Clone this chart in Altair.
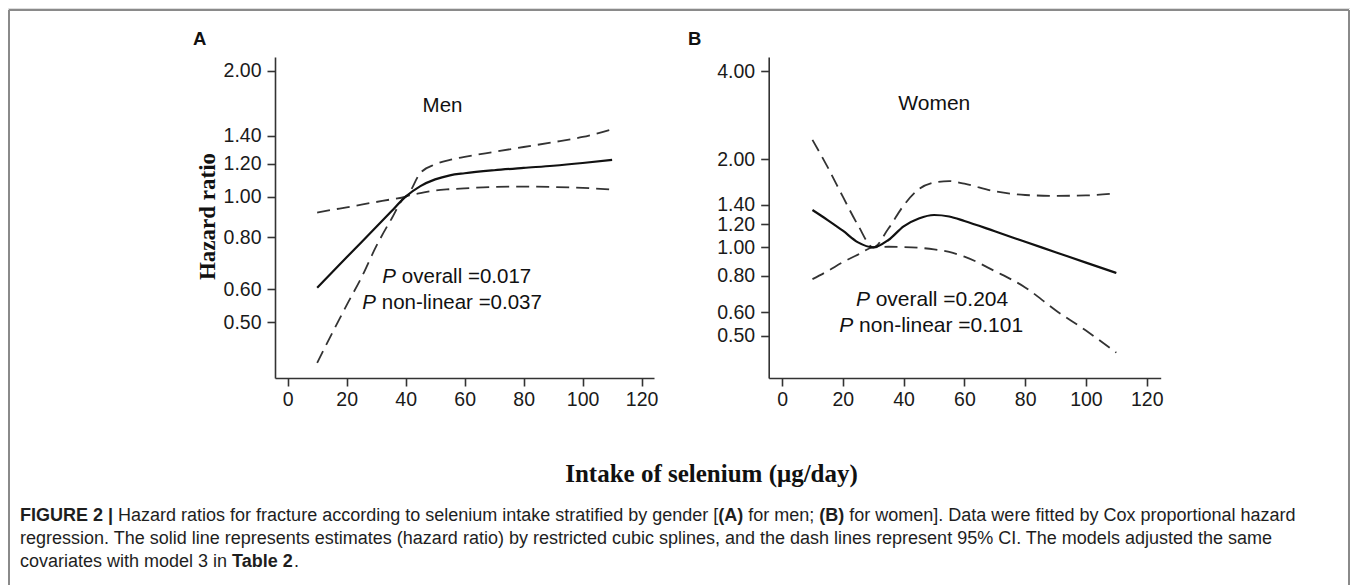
import altair as alt
import pandas as pd

# ---------------- data ----------------
x_knots = [10, 15, 20, 25, 30, 35, 40, 45, 50, 55, 60, 70, 80, 90, 100, 110]

men_hr    = [0.605, 0.658, 0.716, 0.778, 0.846, 0.92, 1.0, 1.06, 1.10, 1.125, 1.138, 1.157, 1.172, 1.186, 1.204, 1.225]
men_upper = [0.916, 0.93, 0.943, 0.957, 0.971, 0.985, 1.0, 1.14, 1.195, 1.225, 1.245, 1.28, 1.315, 1.35, 1.39, 1.45]
men_lower = [0.40, 0.47, 0.55, 0.64, 0.76, 0.88, 1.0, 1.02, 1.035, 1.042, 1.047, 1.055, 1.057, 1.055, 1.05, 1.04]

women_hr    = [1.342, 1.24, 1.14, 1.04, 1.0, 1.06, 1.18, 1.255, 1.29, 1.275, 1.231, 1.135, 1.045, 0.963, 0.887, 0.818]
women_upper = [2.33, 1.88, 1.49, 1.19, 1.0, 1.16, 1.39, 1.58, 1.665, 1.685, 1.65, 1.555, 1.51, 1.50, 1.505, 1.53]
women_lower = [0.779, 0.83, 0.89, 0.945, 1.0, 1.005, 1.003, 0.997, 0.985, 0.965, 0.93, 0.83, 0.73, 0.61, 0.52, 0.437]

x_ticks = [0, 20, 40, 60, 80, 100, 120]
men_y_ticks = [0.5, 0.6, 0.8, 1.0, 1.2, 1.4, 2.0]
women_y_ticks = [0.5, 0.6, 0.8, 1.0, 1.2, 1.4, 2.0, 4.0]

men_label = "Men"
women_label = "Women"
men_p = ["overall =0.017", "non-linear =0.037"]
women_p = ["overall =0.204", "non-linear =0.101"]

y_title = "Hazard ratio"
x_title = "Intake of selenium (\u03bcg/day)"
panel_letters = ["A", "B"]

caption_lines = [
    [("FIGURE 2 |", True),
     (" Hazard ratios for fracture according to selenium intake stratified by gender [", False),
     ("(A)", True), (" for men; ", False), ("(B)", True),
     (" for women]. Data were fitted by Cox proportional hazard", False)],
    [("regression. The solid line represents estimates (hazard ratio) by restricted cubic splines, "
      "and the dash lines represent 95% CI. The models adjusted the same", False)],
    [("covariates with model 3 in ", False), ("Table 2", True), (".", False)],
]

# ---------------- layout ----------------
W, H = 1342, 577
SANS = "Liberation Sans, Arial, Helvetica, sans-serif"
SERIF = "Liberation Serif, Times New Roman, serif"

# Arial-compatible advance widths (per 1000 em) for placing rich-text pieces
AR = {' ': 278, '(': 333, ')': 333, ',': 278, '-': 333, '.': 278, '/': 278, ';': 278,
      '[': 278, ']': 278, '%': 889, '|': 260, ':': 278,
      'A': 667, 'B': 667, 'C': 722, 'D': 722, 'E': 667, 'F': 611, 'G': 778, 'H': 722,
      'I': 278, 'M': 833, 'P': 667, 'R': 722, 'T': 611, 'U': 722,
      'a': 556, 'b': 556, 'c': 500, 'd': 556, 'e': 556, 'f': 278, 'g': 556, 'h': 556,
      'i': 222, 'j': 222, 'k': 500, 'l': 222, 'm': 833, 'n': 556, 'o': 556, 'p': 556,
      'q': 556, 'r': 333, 's': 500, 't': 278, 'u': 556, 'v': 500, 'w': 722, 'x': 500,
      'y': 500, 'z': 500}
ARB = {' ': 278, '(': 333, ')': 333, '|': 280, '.': 278,
       'A': 722, 'B': 722, 'E': 667, 'F': 611, 'G': 778, 'I': 278, 'R': 722, 'U': 722,
       'T': 611, 'a': 556, 'b': 611, 'l': 278, 'e': 556}


def text_width(s, bold, size):
    table = ARB if bold else AR
    return sum(table.get(c, 556) for c in s) * size / 1000.0


CAP_SIZE = 18
CAP_X0 = 12
CAP_Y = [513, 536, 559]

cap_rows = []
for line, yb in zip(caption_lines, CAP_Y):
    cx = CAP_X0
    for seg, bold in line:
        lead = len(seg) - len(seg.lstrip(' '))
        trail = len(seg) - len(seg.rstrip(' '))
        core = seg.strip(' ')
        cx += lead * 278 * CAP_SIZE / 1000.0
        cap_rows.append({'px': cx, 'py': yb, 'text': core, 'bold': bold})
        cx += text_width(core, bold, CAP_SIZE) + trail * 278 * CAP_SIZE / 1000.0
cap_df = pd.DataFrame(cap_rows)

axis_common = dict(grid=False, domainColor='#333', domainWidth=1.6, tickColor='#333',
                   tickWidth=1.6, tickSize=8, labelFont=SANS, labelFontSize=19.5,
                   labelColor='#1a1a1a', labelOverlap=False, labelFlush=False)


def panel(hr, up, lo, xdom, xrng, ydom, yrng, yticks, with_title,
          label, label_pos, ptexts, p_pos, p_shift, fs):
    xs = alt.Scale(domain=xdom, range=xrng, nice=False, zero=False)
    ys = alt.Scale(type='log', domain=ydom, range=yrng, nice=False, zero=False)
    xaxis = alt.Axis(orient='bottom', offset=yrng[0] - H, values=x_ticks, format='d',
                     title=None, labelPadding=4, **axis_common)
    if with_title:
        yaxis = alt.Axis(orient='left', offset=-xrng[0], values=yticks, format='.2f',
                         labelPadding=6, title=y_title, titleFont=SERIF, titleFontSize=23,
                         titleFontWeight='bold', titleColor='#111', titleAngle=270,
                         titleAlign='center', titleBaseline='middle',
                         titleX=-67.5, titleY=208, **axis_common)
    else:
        yaxis = alt.Axis(orient='left', offset=-xrng[0], values=yticks, format='.2f',
                         labelPadding=6, title=None, **axis_common)
    X = alt.X('x:Q', scale=xs, axis=xaxis)
    Y = alt.Y('y:Q', scale=ys, axis=yaxis)

    n = len(x_knots)
    curves = pd.DataFrame({'x': x_knots * 3, 'y': hr + up + lo,
                           'band': ['hr'] * n + ['upper'] * n + ['lower'] * n})
    base = alt.Chart(curves)
    solid = base.transform_filter(alt.datum.band == 'hr').mark_line(
        interpolate='monotone', color='#111', strokeWidth=2.2).encode(x=X, y=Y)
    dashed = base.transform_filter(alt.datum.band != 'hr').mark_line(
        interpolate='monotone', color='#333', strokeWidth=1.8, strokeDash=[13, 7]
    ).encode(x=X, y=Y, detail='band:N')

    lab_df = pd.DataFrame({'x': [label_pos[0]], 'y': [label_pos[1]], 'text': [label]})
    lab = alt.Chart(lab_df).mark_text(font=SANS, fontSize=fs, color='#111', align='center',
                                      baseline='alphabetic').encode(x=X, y=Y, text='text:N')

    p_df = pd.DataFrame({'x': [p[0] for p in p_pos], 'y': [p[1] for p in p_pos],
                         'text': ['P'] * len(p_pos)})
    rest_df = pd.DataFrame({'x': [p[0] + p_shift for p in p_pos], 'y': [p[1] for p in p_pos],
                            'text': ptexts})
    p_mark = alt.Chart(p_df).mark_text(font=SANS, fontSize=fs, fontStyle='italic', color='#111',
                                       align='left', baseline='alphabetic').encode(
        x=X, y=Y, text='text:N')
    rest_mark = alt.Chart(rest_df).mark_text(font=SANS, fontSize=fs, color='#111', align='left',
                                             baseline='alphabetic').encode(
        x=X, y=Y, text='text:N')
    return alt.layer(dashed, solid, lab, p_mark, rest_mark)


panel_a = panel(men_hr, men_upper, men_lower,
                xdom=[-4.3, 124.2], xrng=[267, 646], ydom=[0.368, 2.16], yrng=[370, 49],
                yticks=men_y_ticks, with_title=True,
                label=men_label, label_pos=(52.5, 1.598),
                ptexts=men_p, p_pos=[(32.1, 0.6225), (25.3, 0.539)], p_shift=6.6, fs=20.5)

panel_b = panel(women_hr, women_upper, women_lower,
                xdom=[-4.4, 124.6], xrng=[760.7, 1152.7], ydom=[0.358, 4.47], yrng=[370, 49],
                yticks=women_y_ticks, with_title=False,
                label=women_label, label_pos=(50.1, 2.948),
                ptexts=women_p, p_pos=[(24.3, 0.63), (18.85, 0.514)], p_shift=6.5, fs=21)

one = alt.Data(values=[{}])
frame_style = dict(color='#8a8a8a', strokeWidth=2)
frame_top = alt.Chart(one).mark_rule(**frame_style).encode(
    x=alt.value(1), x2=alt.value(W - 1), y=alt.value(2))
frame_left = alt.Chart(one).mark_rule(**frame_style).encode(
    x=alt.value(1), y=alt.value(2), y2=alt.value(H))
frame_right = alt.Chart(one).mark_rule(**frame_style).encode(
    x=alt.value(W - 1), y=alt.value(2), y2=alt.value(H))

letters_df = pd.DataFrame({'px': [185, 680], 'py': [37, 37], 'text': panel_letters})
letters = alt.Chart(letters_df).mark_text(font=SANS, fontSize=18.5, fontWeight='bold',
                                          color='#111', align='left', baseline='alphabetic').encode(
    x=alt.X('px:Q', scale=None, axis=None), y=alt.Y('py:Q', scale=None, axis=None), text='text:N')

xt_df = pd.DataFrame({'px': [703.5], 'py': [474], 'text': [x_title]})
xtitle = alt.Chart(xt_df).mark_text(font=SERIF, fontSize=25, fontWeight='bold', color='#111',
                                    align='center', baseline='alphabetic').encode(
    x=alt.X('px:Q', scale=None, axis=None), y=alt.Y('py:Q', scale=None, axis=None), text='text:N')

cap_base = alt.Chart(cap_df)
cap_reg = cap_base.transform_filter(alt.datum.bold == False).mark_text(
    font=SANS, fontSize=CAP_SIZE, color='#1e1e1e', align='left', baseline='alphabetic').encode(
    x=alt.X('px:Q', scale=None, axis=None), y=alt.Y('py:Q', scale=None, axis=None), text='text:N')
cap_bold = cap_base.transform_filter(alt.datum.bold == True).mark_text(
    font=SANS, fontSize=CAP_SIZE, fontWeight='bold', color='#1e1e1e', align='left',
    baseline='alphabetic').encode(
    x=alt.X('px:Q', scale=None, axis=None), y=alt.Y('py:Q', scale=None, axis=None), text='text:N')

chart = alt.layer(frame_top, frame_left, frame_right, letters, xtitle, cap_reg, cap_bold,
                  panel_a, panel_b).resolve_scale(
    x='independent', y='independent').resolve_axis(x='independent', y='independent').properties(
    width=W, height=H, padding=0, autosize=alt.AutoSizeParams(type='none')
).configure_view(stroke=None).configure(background='white')

chart.save("out.html", embed_options={"renderer": "svg", "actions": False})
